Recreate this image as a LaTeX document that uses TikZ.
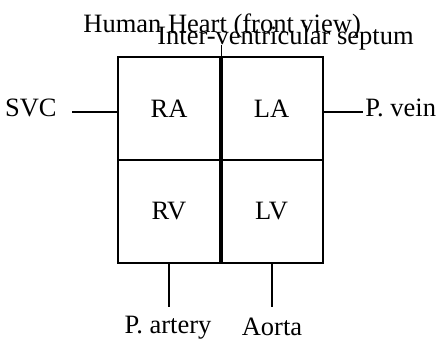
\documentclass[tikz,border=0pt]{standalone}
\usepackage{fontspec}
\setmainfont{Liberation Serif}
\begin{document}
\begin{tikzpicture}[x=0.5pt,y=-0.5pt,
  cell/.style={draw, line width=0.75pt, minimum width=51.25pt, minimum height=51.5pt, inner sep=0pt,
    font=\fontsize{13.25}{15}\selectfont},
  lbl/.style={inner sep=0pt, font=\fontsize{13.25}{15}\selectfont},
  conn/.style={line width=0.6pt},
  septumline/.style={line width=1.65pt}]
\useasboundingbox (0,0) rectangle (442,338);
\node[cell] (RA) at (169,108.5) {RA};
\node[cell] (LA) at (271.5,108.5) {LA};
\node[cell] (RV) at (169,211.5) {RV};
\node[cell] (LV) at (271.5,211.5) {LV};
\draw[septumline] (RA.north east) -- (RV.south east);
\coordinate (tick) at (221,45);
\draw[line width=0.45pt] (tick) -- (tick |- RA.north);
\node[lbl, anchor=base west] (title) at (83,32) {Human Heart (front view)};
\node[lbl, anchor=base west] (septum) at (157,44) {Inter-ventricular septum};
\node[lbl, anchor=base east] (svc) at (57,116) {SVC};
\coordinate (svcend) at (72,112);
\draw[conn] (svcend) -- (svcend -| RA.west);
\node[lbl, anchor=base west] (pvein) at (365,116) {P. vein};
\coordinate (pveinend) at (363,112);
\draw[conn] (pveinend -| LA.east) -- (pveinend);
\coordinate (partend) at (169,307);
\draw[conn] (partend |- RV.south) -- (partend);
\node[lbl, anchor=base] (part) at (168,333) {P. artery};
\coordinate (aortaend) at (272,307);
\draw[conn] (aortaend |- LV.south) -- (aortaend);
\node[lbl, anchor=base] (aorta) at (272,335) {Aorta};
\end{tikzpicture}
\end{document}
